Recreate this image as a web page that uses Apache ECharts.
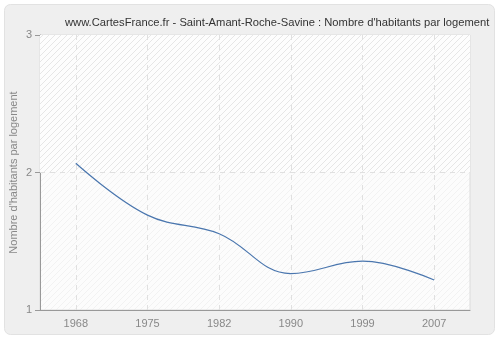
<!DOCTYPE html>
<html><head><meta charset="utf-8">
<script src="https://cdn.jsdelivr.net/npm/echarts@6/dist/echarts.min.js"></script>
<style>html,body{margin:0;padding:0;background:#fff}#c{width:500px;height:340px}</style>
</head><body><div id="c"></div>
<script>
var titleText = "www.CartesFrance.fr - Saint-Amant-Roche-Savine : Nombre d'habitants par logement";
var yAxisName = "Nombre d'habitants par logement";
var years = ["1968", "1975", "1982", "1990", "1999", "2007"];
var values = [2.067, 1.69, 1.555, 1.265, 1.355, 1.218];
var yTicks = [1, 2, 3];

function hatch(color, bg) {
  var cv = document.createElement('canvas');
  cv.width = 6; cv.height = 6;
  var g = cv.getContext('2d');
  g.fillStyle = bg; g.fillRect(0, 0, 6, 6);
  g.strokeStyle = color; g.lineWidth = 1;
  g.beginPath();
  g.moveTo(0, 6); g.lineTo(6, 0);
  g.moveTo(-3, 3); g.lineTo(3, -3);
  g.moveTo(3, 9); g.lineTo(9, 3);
  g.stroke();
  return cv;
}

var chart = echarts.init(document.getElementById('c'), null, {renderer: 'canvas'});
var font = 'Liberation Sans';
var dash = {color: '#e0e0e0', type: [5, 5], width: 1};
chart.setOption({
  backgroundColor: '#ffffff',
  animation: false,
  graphic: [{
    type: 'rect', z: -10, silent: true,
    shape: {x: 4.5, y: 4.5, width: 490, height: 330, r: 6},
    style: {fill: '#efefef', stroke: '#e2e2e2', lineWidth: 1}
  }],
  title: {
    text: titleText, left: 60, top: 12,
    textStyle: {fontFamily: font, fontSize: 11.2, fontWeight: 'normal', color: '#333'}
  },
  grid: {left: 40, right: 30, top: 35, bottom: 30, show: true, containLabel: false,
    outerBoundsMode: 'none',
    backgroundColor: {image: hatch('#f2f2f2', '#fcfcfc'), repeat: 'repeat'},
    borderColor: '#dcdcdc', borderWidth: 1},
  xAxis: {
    type: 'category', data: years, boundaryGap: true,
    axisLine: {lineStyle: {color: '#999', width: 1}},
    axisTick: {alignWithLabel: true, length: 5, lineStyle: {color: '#999'}},
    axisLabel: {color: '#888', fontFamily: font, fontSize: 11, margin: 8},
    splitLine: {show: false}
  },
  yAxis: {
    type: 'value', min: 1, max: 3, interval: 1,
    name: yAxisName, nameLocation: 'middle', nameGap: 21, nameMoveOverlap: false,
    nameTextStyle: {color: '#888', fontFamily: font, fontSize: 11},
    axisLine: {show: true, lineStyle: {color: '#999', width: 1}},
    axisTick: {show: true, length: 5, lineStyle: {color: '#999'}},
    axisLabel: {color: '#888', fontFamily: font, fontSize: 11, margin: 8},
    splitLine: {show: true, lineStyle: dash}
  },
  series: [{
    type: 'line', data: values, smooth: 0.4, symbol: 'none', z: 5,
    lineStyle: {color: '#4a76ae', width: 1.2},
    markArea: {silent: true, itemStyle: {color: {image: hatch('#e6e6e6', '#fdfdfd'), repeat: 'repeat'}},
      data: [[{yAxis: 2}, {yAxis: 3}]]},
    markLine: {silent: true, symbol: 'none', label: {show: false},
      lineStyle: dash,
      data: years.map(function (y) { return {xAxis: y}; }).concat([{yAxis: 2}])}
  }]
});
</script></body></html>
